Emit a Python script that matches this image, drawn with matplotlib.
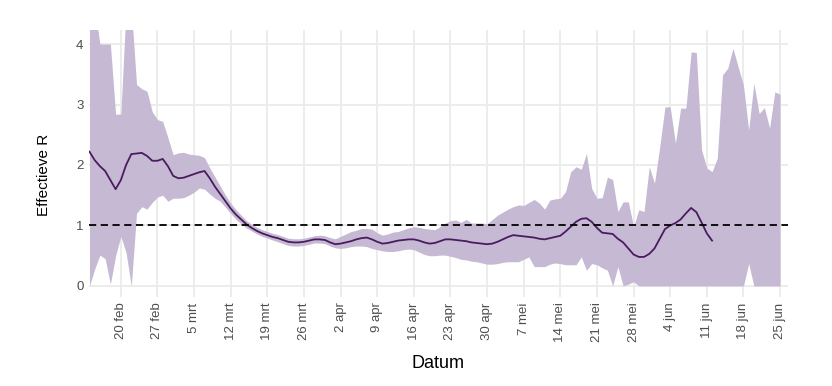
import matplotlib
matplotlib.use("Agg")
import matplotlib.pyplot as plt
import pandas as pd

# daily values starting 14 feb 2020
start = "2020-02-14"

r_median = [2.22, 2.08, 1.98, 1.90, 1.75, 1.60, 1.75, 2.00, 2.18, 2.19,
            2.20, 2.15, 2.07, 2.07, 2.10, 1.98, 1.82, 1.78, 1.79, 1.82,
            1.85, 1.88, 1.90, 1.78, 1.64, 1.52, 1.40, 1.28, 1.18, 1.10,
            1.02, 0.96, 0.91, 0.87, 0.84, 0.81, 0.79, 0.76, 0.73, 0.72,
            0.72, 0.73, 0.75, 0.77, 0.77, 0.76, 0.72, 0.69, 0.70, 0.72,
            0.74, 0.77, 0.79, 0.80, 0.77, 0.73, 0.70, 0.71, 0.73, 0.75,
            0.76, 0.77, 0.77, 0.75, 0.72, 0.70, 0.71, 0.74, 0.77, 0.77,
            0.76, 0.75, 0.74, 0.72, 0.71, 0.70, 0.69, 0.70, 0.73, 0.77,
            0.81, 0.84, 0.83, 0.82, 0.81, 0.80, 0.78, 0.77, 0.79, 0.81,
            0.83, 0.90, 0.98, 1.06, 1.11, 1.12, 1.06, 0.96, 0.88, 0.87,
            0.86, 0.78, 0.72, 0.62, 0.52, 0.48, 0.48, 0.53, 0.62, 0.78,
            0.94, 1.00, 1.04, 1.10, 1.20, 1.29, 1.22, 1.05, 0.87, 0.75]

r_upper = [4.60, 4.60, 4.00, 4.00, 4.00, 2.84, 2.84, 4.60, 4.60, 3.33,
           3.26, 3.22, 2.88, 2.75, 2.72, 2.45, 2.17, 2.20, 2.21, 2.18,
           2.17, 2.16, 2.12, 1.95, 1.80, 1.65, 1.50, 1.37, 1.26, 1.17,
           1.08, 1.02, 0.97, 0.93, 0.90, 0.87, 0.85, 0.82, 0.79, 0.78,
           0.78, 0.79, 0.81, 0.83, 0.84, 0.83, 0.80, 0.78, 0.82, 0.86,
           0.90, 0.92, 0.95, 0.95, 0.94, 0.88, 0.84, 0.86, 0.89, 0.90,
           0.93, 0.96, 0.98, 0.97, 0.95, 0.94, 0.93, 0.98, 1.04, 1.08,
           1.09, 1.05, 1.10, 1.04, 1.04, 1.04, 1.03, 1.10, 1.17, 1.22,
           1.27, 1.31, 1.34, 1.33, 1.38, 1.43, 1.37, 1.27, 1.42, 1.44,
           1.45, 1.56, 1.89, 1.97, 1.93, 2.19, 1.61, 1.45, 1.46, 1.80,
           1.76, 1.23, 1.39, 1.39, 0.98, 1.26, 1.23, 1.97, 1.70, 2.30,
           2.96, 2.96, 2.36, 2.94, 2.94, 3.87, 3.86, 2.25, 1.95, 1.89,
           2.11, 3.49, 3.60, 3.93, 3.62, 3.32, 2.58, 3.35, 2.85, 2.95,
           2.61, 3.21, 3.17]

r_lower = [0.00, 0.28, 0.51, 0.45, 0.03, 0.50, 0.82, 0.55, 0.00, 1.20,
           1.31, 1.27, 1.38, 1.47, 1.50, 1.40, 1.45, 1.45, 1.46, 1.50,
           1.55, 1.62, 1.60, 1.52, 1.45, 1.40, 1.30, 1.20, 1.10, 1.03,
           0.96, 0.91, 0.86, 0.82, 0.79, 0.76, 0.73, 0.70, 0.67, 0.66,
           0.66, 0.67, 0.69, 0.71, 0.71, 0.70, 0.66, 0.63, 0.62, 0.63,
           0.65, 0.66, 0.66, 0.65, 0.62, 0.60, 0.58, 0.57, 0.57, 0.58,
           0.60, 0.61, 0.60, 0.56, 0.52, 0.50, 0.50, 0.51, 0.51, 0.49,
           0.47, 0.44, 0.43, 0.41, 0.40, 0.38, 0.36, 0.36, 0.37, 0.39,
           0.40, 0.40, 0.40, 0.44, 0.48, 0.32, 0.32, 0.32, 0.36, 0.38,
           0.37, 0.35, 0.35, 0.35, 0.48, 0.26, 0.37, 0.35, 0.30, 0.26,
           0.00, 0.32, 0.00, 0.03, 0.07, 0.00, 0.00, 0.00, 0.00, 0.00,
           0.00, 0.00, 0.00, 0.00, 0.00, 0.00, 0.00, 0.00, 0.00, 0.00,
           0.00, 0.00, 0.00, 0.00, 0.00, 0.00, 0.37, 0.00, 0.00, 0.00,
           0.00, 0.00, 0.00]

tick_dates = pd.date_range("2020-02-20", "2020-06-25", freq="7D")
tick_labels = ["20 feb", "27 feb", "5 mrt", "12 mrt", "19 mrt", "26 mrt",
               "2 apr", "9 apr", "16 apr", "23 apr", "30 apr", "7 mei",
               "14 mei", "21 mei", "28 mei", "4 jun", "11 jun", "18 jun",
               "25 jun"]

band_dates = pd.date_range(start, periods=len(r_upper), freq="D")
line_dates = pd.date_range(start, periods=len(r_median), freq="D")

plt.rcParams['font.family'] = ['Liberation Sans', 'DejaVu Sans']

fig = plt.figure(figsize=(8.32, 3.86), dpi=100)
ax = fig.add_axes([0.107, 0.231, 0.84, 0.691])

ax.fill_between(band_dates, r_lower, r_upper, color='#c6b9d3', linewidth=0, zorder=2)
ax.plot(line_dates, r_median, color='#4a1b5f', linewidth=1.3, zorder=3)
ax.axhline(1, color='black', linestyle=(0, (4, 2.5)), linewidth=1.3, zorder=4)

ax.set_xlim(pd.Timestamp("2020-02-13 22:00"), pd.Timestamp("2020-06-26 12:00"))
ax.set_ylim(-0.18, 4.23)
ax.set_yticks([0, 1, 2, 3, 4])
ax.set_xticks(tick_dates)
ax.set_xticklabels(tick_labels, rotation=90)

ax.grid(True, color='#ebebeb', linewidth=1.3, zorder=0)
ax.set_axisbelow(True)
for s in ax.spines.values():
    s.set_visible(False)
ax.tick_params(length=0, labelsize=9.5, colors='#4d4d4d', pad=4)

ax.set_xlabel('Datum', fontsize=13, labelpad=9)
ax.set_ylabel('Effectieve R', fontsize=11)
ax.yaxis.set_label_coords(-0.055, 0.457)

fig.savefig('out.png', dpi=100)
